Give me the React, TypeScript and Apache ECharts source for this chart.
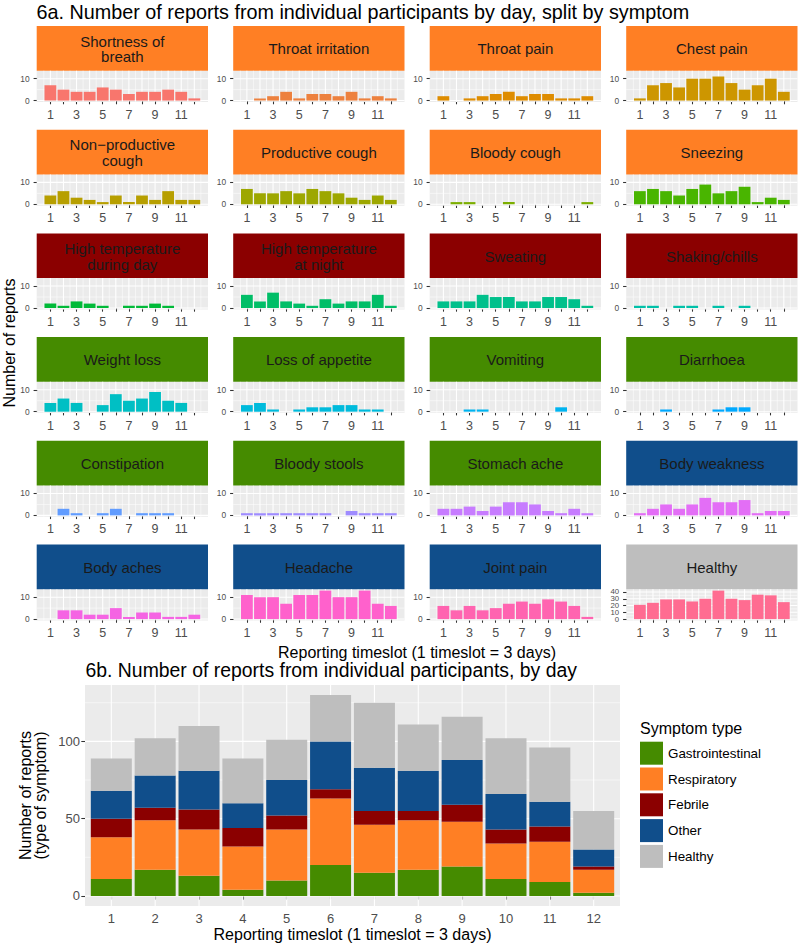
import React, { useEffect, useRef } from "react";
import * as echarts from "echarts";

// ---------- data ----------
const timeslots = [1, 2, 3, 4, 5, 6, 7, 8, 9, 10, 11, 12];
const oddTimeslotLabels = [1, 3, 5, 7, 9, 11];
const smallYTicks = [0, 10];
const healthyYTicks = [0, 10, 20, 30, 40];
const bottomYTicks = [0, 50, 100];

const symptomNames = [
  "Shortness of\nbreath", "Throat irritation", "Throat pain", "Chest pain",
  "Non\u2212productive\ncough", "Productive cough", "Bloody cough", "Sneezing",
  "High temperature\nduring day", "High temperature\nat night", "Sweating", "Shaking/chills",
  "Weight loss", "Loss of appetite", "Vomiting", "Diarrhoea",
  "Constipation", "Bloody stools", "Stomach ache", "Body weakness",
  "Body aches", "Headache", "Joint pain", "Healthy",
];

const symptomTypes = [
  "Respiratory", "Respiratory", "Respiratory", "Respiratory",
  "Respiratory", "Respiratory", "Respiratory", "Respiratory",
  "Febrile", "Febrile", "Febrile", "Febrile",
  "Gastrointestinal", "Gastrointestinal", "Gastrointestinal", "Gastrointestinal",
  "Gastrointestinal", "Gastrointestinal", "Gastrointestinal", "Other",
  "Other", "Other", "Other", "Healthy",
];

const shortnessOfBreath = [7, 5, 4, 4, 6, 5, 3, 4, 4, 5, 4, 1];
const throatIrritation = [0, 1, 2, 4, 1, 3, 3, 2, 4, 1, 2, 1];
const throatPain = [2, 0, 1, 2, 3, 4, 2, 3, 3, 1, 1, 2];
const chestPain = [1, 7, 8, 6, 10, 10, 11, 8, 5, 7, 10, 4];
const nonProductiveCough = [4, 6, 3, 2, 1, 4, 1, 4, 2, 6, 2, 2];
const productiveCough = [7, 5, 5, 6, 5, 7, 6, 5, 3, 2, 4, 2];
const bloodyCough = [0, 1, 1, 0, 0, 1, 0, 0, 0, 0, 0, 1];
const sneezing = [6, 7, 6, 4, 7, 9, 5, 6, 8, 1, 3, 2];
const highTempDay = [2, 1, 3, 2, 1, 0, 1, 1, 2, 1, 0, 0];
const highTempNight = [6, 3, 7, 3, 2, 1, 4, 2, 3, 3, 6, 1];
const sweating = [3, 3, 3, 6, 5, 5, 3, 3, 5, 5, 4, 1];
const shakingChills = [1, 1, 0, 1, 1, 0, 1, 0, 1, 0, 0, 0];
const weightLoss = [4, 6, 4, 0, 3, 8, 5, 6, 9, 5, 4, 0];
const lossOfAppetite = [3, 4, 1, 0, 1, 2, 2, 3, 3, 1, 1, 0];
const vomiting = [0, 0, 1, 1, 0, 0, 0, 0, 0, 2, 0, 0];
const diarrhoea = [0, 0, 1, 0, 0, 0, 1, 2, 2, 0, 0, 0];
const constipation = [0, 3, 1, 0, 1, 3, 0, 1, 1, 1, 0, 0];
const bloodyStools = [1, 1, 1, 1, 1, 1, 1, 0, 2, 1, 1, 1];
const stomachAche = [3, 3, 4, 2, 4, 6, 6, 5, 2, 1, 3, 1];
const bodyWeakness = [1, 3, 5, 3, 5, 8, 6, 6, 7, 1, 2, 2];
const bodyAches = [0, 4, 4, 2, 2, 5, 1, 3, 3, 1, 1, 2];
const headache = [11, 10, 10, 7, 11, 11, 13, 10, 10, 13, 7, 6];
const jointPain = [6, 4, 6, 4, 5, 7, 8, 7, 9, 8, 6, 1];
const healthy = [21, 24, 29, 29, 26, 30, 42, 30, 28, 36, 35, 25];

const symptomValues = [
  shortnessOfBreath, throatIrritation, throatPain, chestPain,
  nonProductiveCough, productiveCough, bloodyCough, sneezing,
  highTempDay, highTempNight, sweating, shakingChills,
  weightLoss, lossOfAppetite, vomiting, diarrhoea,
  constipation, bloodyStools, stomachAche, bodyWeakness,
  bodyAches, headache, jointPain, healthy,
];

// 6b stacked totals per symptom type
const typeNames = ["Gastrointestinal", "Respiratory", "Febrile", "Other", "Healthy"];
const gastrointestinalReports = [11, 17, 13, 4, 10, 20, 15, 17, 19, 11, 9, 2];
const respiratoryReports = [27, 32, 30, 28, 33, 43, 31, 32, 29, 23, 26, 15];
const febrileReports = [12, 8, 13, 12, 9, 6, 9, 6, 11, 9, 10, 2];
const otherReports = [18, 21, 25, 16, 23, 31, 28, 26, 29, 23, 16, 11];
const healthyReports = [21, 24, 29, 29, 26, 30, 42, 30, 28, 36, 35, 25];
const typeValues = [gastrointestinalReports, respiratoryReports, febrileReports, otherReports, healthyReports];

// ---------- styles ----------
const FONT = "'Liberation Sans', Arial, Helvetica, sans-serif";
const typeColors: Record<string, string> = {
  Gastrointestinal: "#458B00",
  Respiratory: "#FF7F24",
  Febrile: "#8B0000",
  Other: "#104E8B",
  Healthy: "#BEBEBE",
};

// R's hcl() (polar CIE-LUV) -> hex, used for ggplot's default hue palette
function hcl(h: number, c = 100, l = 65): string {
  const WY = 100, Wu = 0.1978398, Wv = 0.4683363;
  const hr = (h * Math.PI) / 180;
  const U = c * Math.cos(hr), V = c * Math.sin(hr);
  const Y = WY * (l > 7.999592 ? Math.pow((l + 16) / 116, 3) : l / 903.3);
  const u = U / (13 * l) + Wu;
  const v = V / (13 * l) + Wv;
  const X = (9.0 * Y * u) / (4 * v);
  const Z = -X / 3 - 5 * Y + (3 * Y) / v;
  const g = (t: number) => (t > 0.00304 ? 1.055 * Math.pow(t, 1 / 2.4) - 0.055 : 12.92 * t);
  const to = (t: number) => {
    const x = Math.round(Math.min(1, Math.max(0, g(t))) * 255);
    return x.toString(16).padStart(2, "0");
  };
  const R = (3.240479 * X - 1.53715 * Y - 0.498535 * Z) / WY;
  const G = (-0.969256 * X + 1.875992 * Y + 0.041556 * Z) / WY;
  const B = (0.055648 * X - 0.204043 * Y + 1.057311 * Z) / WY;
  return "#" + to(R) + to(G) + to(B);
}
const hueColors = symptomNames.map((_, i) => hcl(15 + 15 * i));

// layout
const COL_X = [36.7, 233.2, 429.7, 626.2];
const PANEL_W = 171.3;
const ROW_Y0 = 26;
const ROW_STEP = 103.7;
const STRIP_H = 44.7;
const PLOT_H = 31.3;
const X_MIN = -0.045, X_MAX = 13.045;

const B_LEFT = 85, B_TOP = 685, B_W = 535, B_H = 221;
const BX_MIN = 0.4, BX_MAX = 12.6;

function gridLines(idx: number, xMajor: number[], xMinor: number[], yMajor: number[], yMinor: number[]) {
  return {
    type: "custom",
    xAxisIndex: idx,
    yAxisIndex: idx,
    silent: true,
    z: 1,
    clip: false,
    data: [[0, 0]],
    renderItem: (params: any, api: any) => {
      const cs = params.coordSys;
      const children: any[] = [];
      const addV = (v: number, w: number) => {
        const px = api.coord([v, 0])[0];
        children.push({ type: "line", shape: { x1: px, y1: cs.y, x2: px, y2: cs.y + cs.height }, style: { stroke: "#FFFFFF", lineWidth: w } });
      };
      const addH = (v: number, w: number) => {
        const py = api.coord([0, v])[1];
        children.push({ type: "line", shape: { x1: cs.x, y1: py, x2: cs.x + cs.width, y2: py }, style: { stroke: "#FFFFFF", lineWidth: w } });
      };
      yMinor.forEach((v) => addH(v, 0.53));
      xMinor.forEach((v) => addV(v, 0.53));
      yMajor.forEach((v) => addH(v, 1.07));
      xMajor.forEach((v) => addV(v, 1.07));
      return { type: "group", children };
    },
  };
}

// crowded tick labels (the Healthy panel) placed through the axis scale, without overlap hiding
function crowdedYLabels(idx: number, ticks: number[], fontSize: number, margin: number) {
  return {
    type: "custom",
    xAxisIndex: idx,
    yAxisIndex: idx,
    silent: true,
    z: 3,
    clip: false,
    data: ticks.map((v) => [0, v]),
    renderItem: (params: any, api: any) => {
      const cs = params.coordSys;
      const v = api.value(1);
      const py = api.coord([0, v])[1];
      return {
        type: "text",
        x: cs.x - margin,
        y: py,
        style: { text: String(v), fontSize, fontFamily: FONT, fill: "#4D4D4D", align: "right", verticalAlign: "middle" },
      };
    },
  };
}

function buildOption() {
  const grids: any[] = [];
  const xAxes: any[] = [];
  const yAxes: any[] = [];
  const series: any[] = [];
  const graphics: any[] = [];

  const tickStyle = { color: "#333333", width: 1.07 };
  const pxPerUnit = PANEL_W / (X_MAX - X_MIN);
  const xMinorSmall = timeslots.map((t) => t - 0.5).concat([timeslots[timeslots.length - 1] + 0.5]);

  symptomNames.forEach((name, i) => {
    const col = i % 4;
    const row = Math.floor(i / 4);
    const left = COL_X[col];
    const stripTop = ROW_Y0 + row * ROW_STEP;
    const plotTop = stripTop + STRIP_H;
    const vals = symptomValues[i];
    const isHealthy = symptomTypes[i] === "Healthy";
    const yTicks = isHealthy ? healthyYTicks : smallYTicks;
    const yMax = isHealthy ? 42 : 13;
    const yMinor = isHealthy ? [5, 15, 25, 35] : [5];

    grids.push({
      left, top: plotTop, width: PANEL_W, height: PLOT_H,
      show: true, backgroundColor: "#EBEBEB", borderWidth: 0, containLabel: false, outerBoundsMode: "none",
    });
    xAxes.push({
      gridIndex: i, type: "value", min: X_MIN, max: X_MAX,
      axisLine: { show: false }, splitLine: { show: false }, minorSplitLine: { show: false },
      axisTick: { show: true, customValues: timeslots, length: 3.7, lineStyle: tickStyle },
      axisLabel: {
        show: true, customValues: oddTimeslotLabels, fontSize: 12.5, color: "#4D4D4D", fontFamily: FONT, margin: 6,
        showMinLabel: true, showMaxLabel: true, hideOverlap: false,
      },
    });
    yAxes.push({
      gridIndex: i, type: "value", min: -0.05 * yMax, max: yMax * 1.05,
      axisLine: { show: false }, splitLine: { show: false }, minorSplitLine: { show: false },
      axisTick: { show: true, customValues: yTicks, length: 3.7, lineStyle: tickStyle },
      axisLabel: {
        show: !isHealthy, customValues: yTicks, fontSize: 8.4,
        color: "#4D4D4D", fontFamily: FONT, margin: 7,
        showMinLabel: true, showMaxLabel: true, hideOverlap: false,
      },
    });
    series.push(gridLines(i, timeslots, xMinorSmall, yTicks, yMinor));
    if (isHealthy) series.push(crowdedYLabels(i, yTicks, 7.8, 7));
    series.push({
      type: "bar", xAxisIndex: i, yAxisIndex: i, silent: true, z: 2,
      barWidth: 0.9 * pxPerUnit,
      itemStyle: { color: hueColors[i] },
      data: timeslots.map((t, k) => [t, vals[k]]),
    });

    graphics.push({
      type: "rect", silent: true,
      shape: { x: left, y: stripTop, width: PANEL_W, height: STRIP_H },
      style: { fill: typeColors[symptomTypes[i]] },
    });
    graphics.push({
      type: "text", silent: true,
      x: left + PANEL_W / 2, y: stripTop + STRIP_H / 2 + 0.5,
      style: { text: name, fontSize: 15, lineHeight: 15.5, fontFamily: FONT, fill: "#1A1A1A", align: "center", verticalAlign: "middle" },
    });
  });

  // ---------- 6b ----------
  const bi = symptomNames.length;
  grids.push({
    left: B_LEFT, top: B_TOP, width: B_W, height: B_H,
    show: true, backgroundColor: "#EBEBEB", borderWidth: 0, containLabel: false, outerBoundsMode: "none",
  });
  xAxes.push({
    gridIndex: bi, type: "value", min: BX_MIN, max: BX_MAX,
    axisLine: { show: false }, splitLine: { show: false },
    axisTick: { show: true, customValues: timeslots, length: 3.7, lineStyle: tickStyle },
    axisLabel: { show: true, customValues: timeslots, fontSize: 13, color: "#4D4D4D", fontFamily: FONT, margin: 6, showMinLabel: true, showMaxLabel: true },
  });
  const bMax = 130;
  yAxes.push({
    gridIndex: bi, type: "value", min: -0.05 * bMax, max: bMax * 1.05,
    axisLine: { show: false }, splitLine: { show: false },
    axisTick: { show: true, customValues: bottomYTicks, length: 3.7, lineStyle: tickStyle },
    axisLabel: { show: true, customValues: bottomYTicks, fontSize: 13, color: "#4D4D4D", fontFamily: FONT, margin: 5, showMinLabel: true, showMaxLabel: true },
  });
  series.push(gridLines(bi, timeslots, [], bottomYTicks, [25, 75, 125]));
  const halfBar = 0.935 / 2;
  let base = timeslots.map(() => 0);
  typeNames.forEach((tn, j) => {
    const vals = typeValues[j];
    const data = timeslots.map((t, k) => [t, base[k], base[k] + vals[k]]);
    base = base.map((b, k) => b + vals[k]);
    const color = typeColors[tn];
    series.push({
      type: "custom", name: tn, xAxisIndex: bi, yAxisIndex: bi, silent: true, z: 2,
      itemStyle: { color },
      encode: { x: 0, y: [1, 2] },
      data,
      renderItem: (params: any, api: any) => {
        const x = api.value(0), y0 = api.value(1), y1 = api.value(2);
        const pTop = api.coord([x - halfBar, y1]);
        const pBot = api.coord([x + halfBar, y0]);
        return {
          type: "rect",
          shape: { x: pTop[0], y: pTop[1], width: pBot[0] - pTop[0], height: pBot[1] - pTop[1] },
          style: { fill: color },
        };
      },
    });
  });

  // ---------- texts ----------
  const txt = (text: string, x: number, y: number, size: number, align = "left", rotation = 0, lineHeight?: number) => ({
    type: "text", silent: true, x, y, rotation,
    style: { text, fontSize: size, fontFamily: FONT, fill: "#000000", align, verticalAlign: "middle", lineHeight: lineHeight ?? size * 1.15 },
  });
  graphics.push(txt("6a. Number of reports from individual participants by day, split by symptom", 36.5, 11.5, 19.8));
  graphics.push(txt("Reporting timeslot (1 timeslot = 3 days)", 417, 652, 16, "center"));
  graphics.push(txt("Number of reports", 9, 343, 16, "center", Math.PI / 2));
  graphics.push(txt("6b. Number of reports from individual participants, by day", 85.5, 670, 19.4));
  graphics.push(txt("Number of reports\n(type of symptom)", 33, 795.5, 16, "center", Math.PI / 2, 14.5));
  graphics.push(txt("Reporting timeslot (1 timeslot = 3 days)", 352.5, 934, 16, "center"));
  graphics.push(txt("Symptom type", 640, 728, 16));

  return {
    animation: false,
    backgroundColor: "#FFFFFF",
    textStyle: { fontFamily: FONT },
    grid: grids,
    xAxis: xAxes,
    yAxis: yAxes,
    legend: {
      data: typeNames,
      orient: "vertical",
      left: 640,
      top: 741.7,
      padding: 0,
      itemWidth: 23,
      itemHeight: 23,
      itemGap: 2.8,
      icon: "rect",
      selectedMode: false,
      itemStyle: { borderWidth: 0 },
      textStyle: { fontSize: 13.4, color: "#000000", fontFamily: FONT },
    },
    graphic: graphics,
    series,
  };
}

export default function App() {
  const ref = useRef<HTMLDivElement>(null);
  useEffect(() => {
    if (!ref.current) return;
    const chart = echarts.init(ref.current, null, { renderer: "svg", width: 800, height: 947 });
    chart.setOption(buildOption() as any);
    return () => {
      chart.dispose();
    };
  }, []);
  return (
    <div
      ref={ref}
      style={{ position: "absolute", left: 0, top: 0, width: 800, height: 947, background: "#FFFFFF" }}
    />
  );
}
